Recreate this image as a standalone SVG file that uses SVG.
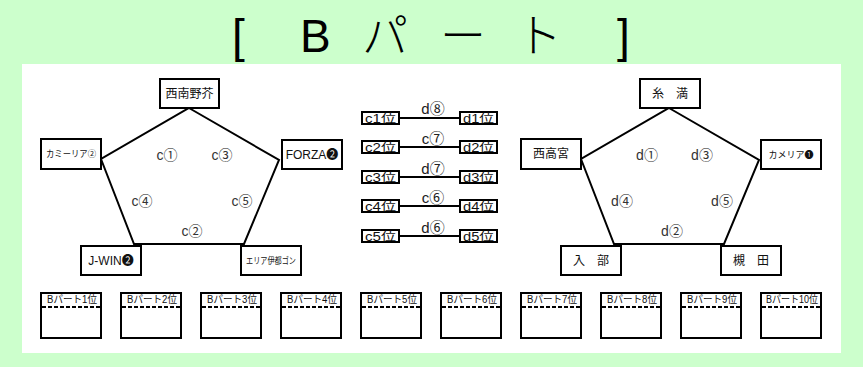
<svg xmlns="http://www.w3.org/2000/svg" width="863" height="367" viewBox="0 0 863 367">
<style>
.box{fill:#fff;stroke:#000;stroke-width:2}
.edge{fill:none;stroke:#000;stroke-width:2}
.t{font-family:"Liberation Sans","Noto Sans CJK JP",sans-serif;fill:#111;text-anchor:middle}
.n12{font-size:12px}
.n9{font-size:9px}
.lab{font-size:14px;fill:#333}
.m{font-size:12px}
.ml{font-size:15px;fill:#222}
.b{font-size:10px}
.dash{stroke:#000;stroke-width:2;stroke-dasharray:4 2}
</style>
<rect x="0" y="0" width="863" height="367" fill="#ccffcc"/>
<rect x="22" y="64" width="819" height="289" fill="#fff"/>
<text y="52" font-family="'Liberation Sans','Noto Sans CJK JP',sans-serif" font-size="46" font-weight="300" fill="#000"><tspan x="232">[</tspan> <tspan x="300">B</tspan><tspan x="362">パ</tspan><tspan x="440">ー</tspan><tspan x="516">ト</tspan> <tspan x="617">]</tspan></text>

<g id="connectors">
<polygon class="edge" points="189,108 279,160 244,244 134,244 101,159"/>
<polygon class="edge" points="669,108 759,160 724,244 614,244 581,159"/>
<line class="edge" x1="399" y1="118" x2="460" y2="118"/>
<line class="edge" x1="399" y1="147" x2="460" y2="147"/>
<line class="edge" x1="399" y1="177" x2="460" y2="177"/>
<line class="edge" x1="399" y1="206" x2="460" y2="206"/>
<line class="edge" x1="399" y1="236" x2="460" y2="236"/>
</g>

<g id="left-labels" class="t lab">
<text x="167" y="160">c①</text>
<text x="222" y="160">c③</text>
<text x="142" y="206">c④</text>
<text x="242" y="206">c⑤</text>
<text x="192" y="236">c②</text>
</g>
<g id="right-labels" class="t lab">
<text x="647" y="160">d①</text>
<text x="702" y="160">d③</text>
<text x="622" y="206">d④</text>
<text x="722" y="206">d⑤</text>
<text x="672" y="236">d②</text>
</g>

<g id="n-seinan"><rect class="box" x="160" y="79" width="59" height="29"/><text class="t n12" x="189.5" y="98">西南野芥</text></g>
<g id="n-kamiria"><rect class="box" x="41" y="139" width="60" height="30"/><text class="t n9" x="71" y="157" textLength="50" lengthAdjust="spacingAndGlyphs">カミーリア②</text></g>
<g id="n-forza"><rect class="box" x="282" y="140" width="60" height="29"/><text class="t n12" x="312" y="159">FORZA❷</text></g>
<g id="n-jwin"><rect class="box" x="81" y="246" width="60" height="29"/><text class="t n12" x="111" y="265">J-WIN❷</text></g>
<g id="n-eria"><rect class="box" x="241" y="246" width="60" height="29"/><text class="t n9" x="271" y="264" textLength="50" lengthAdjust="spacingAndGlyphs">エリア伊都ゴン</text></g>

<g id="n-itoman"><rect class="box" x="640" y="79" width="60" height="29"/><text class="t n12" x="670" y="98">糸　満</text></g>
<g id="n-nishitakamiya"><rect class="box" x="521" y="139" width="60" height="30"/><text class="t n12" x="551" y="158">西高宮</text></g>
<g id="n-kameria"><rect class="box" x="761" y="140" width="60" height="29"/><text class="t n9" x="791" y="158">カメリア❶</text></g>
<g id="n-iribe"><rect class="box" x="561" y="246" width="60" height="29"/><text class="t n12" x="591" y="265">入　部</text></g>
<g id="n-tsukida"><rect class="box" x="721" y="246" width="60" height="29"/><text class="t n12" x="751" y="265">槻　田</text></g>

<g id="n-c1"><rect class="box" x="362" y="112" width="37" height="12"/><text class="t m" x="380.5" y="122.5" textLength="31" lengthAdjust="spacingAndGlyphs">c1位</text></g>
<g id="n-d1"><rect class="box" x="460" y="112" width="37" height="12"/><text class="t m" x="478.5" y="122.5" textLength="31" lengthAdjust="spacingAndGlyphs">d1位</text></g>
<g id="n-c2"><rect class="box" x="362" y="141" width="37" height="12"/><text class="t m" x="380.5" y="151.5" textLength="31" lengthAdjust="spacingAndGlyphs">c2位</text></g>
<g id="n-d2"><rect class="box" x="460" y="141" width="37" height="12"/><text class="t m" x="478.5" y="151.5" textLength="31" lengthAdjust="spacingAndGlyphs">d2位</text></g>
<g id="n-c3"><rect class="box" x="362" y="171" width="37" height="12"/><text class="t m" x="380.5" y="181.5" textLength="31" lengthAdjust="spacingAndGlyphs">c3位</text></g>
<g id="n-d3"><rect class="box" x="460" y="171" width="37" height="12"/><text class="t m" x="478.5" y="181.5" textLength="31" lengthAdjust="spacingAndGlyphs">d3位</text></g>
<g id="n-c4"><rect class="box" x="362" y="200" width="37" height="12"/><text class="t m" x="380.5" y="210.5" textLength="31" lengthAdjust="spacingAndGlyphs">c4位</text></g>
<g id="n-d4"><rect class="box" x="460" y="200" width="37" height="12"/><text class="t m" x="478.5" y="210.5" textLength="31" lengthAdjust="spacingAndGlyphs">d4位</text></g>
<g id="n-c5"><rect class="box" x="362" y="230" width="37" height="12"/><text class="t m" x="380.5" y="240.5" textLength="31" lengthAdjust="spacingAndGlyphs">c5位</text></g>
<g id="n-d5"><rect class="box" x="460" y="230" width="37" height="12"/><text class="t m" x="478.5" y="240.5" textLength="31" lengthAdjust="spacingAndGlyphs">d5位</text></g>

<g id="match-labels" class="t ml">
<text x="433" y="114">d⑧</text>
<text x="433" y="144">c⑦</text>
<text x="433" y="174">d⑦</text>
<text x="433" y="203">c⑥</text>
<text x="433" y="233">d⑥</text>
</g>

<g id="rank1"><rect class="box" x="41" y="293" width="60" height="45"/><line class="dash" x1="42" y1="307" x2="100" y2="307"/><text class="t b" x="72" y="303" textLength="50" lengthAdjust="spacingAndGlyphs">Bパート1位</text></g>
<g id="rank2"><rect class="box" x="121" y="293" width="60" height="45"/><line class="dash" x1="122" y1="307" x2="180" y2="307"/><text class="t b" x="152" y="303" textLength="50" lengthAdjust="spacingAndGlyphs">Bパート2位</text></g>
<g id="rank3"><rect class="box" x="201" y="293" width="60" height="45"/><line class="dash" x1="202" y1="307" x2="260" y2="307"/><text class="t b" x="232" y="303" textLength="50" lengthAdjust="spacingAndGlyphs">Bパート3位</text></g>
<g id="rank4"><rect class="box" x="281" y="293" width="60" height="45"/><line class="dash" x1="282" y1="307" x2="340" y2="307"/><text class="t b" x="312" y="303" textLength="50" lengthAdjust="spacingAndGlyphs">Bパート4位</text></g>
<g id="rank5"><rect class="box" x="361" y="293" width="60" height="45"/><line class="dash" x1="362" y1="307" x2="420" y2="307"/><text class="t b" x="392" y="303" textLength="50" lengthAdjust="spacingAndGlyphs">Bパート5位</text></g>
<g id="rank6"><rect class="box" x="441" y="293" width="60" height="45"/><line class="dash" x1="442" y1="307" x2="500" y2="307"/><text class="t b" x="472" y="303" textLength="50" lengthAdjust="spacingAndGlyphs">Bパート6位</text></g>
<g id="rank7"><rect class="box" x="521" y="293" width="60" height="45"/><line class="dash" x1="522" y1="307" x2="580" y2="307"/><text class="t b" x="552" y="303" textLength="50" lengthAdjust="spacingAndGlyphs">Bパート7位</text></g>
<g id="rank8"><rect class="box" x="601" y="293" width="60" height="45"/><line class="dash" x1="602" y1="307" x2="660" y2="307"/><text class="t b" x="632" y="303" textLength="50" lengthAdjust="spacingAndGlyphs">Bパート8位</text></g>
<g id="rank9"><rect class="box" x="681" y="293" width="60" height="45"/><line class="dash" x1="682" y1="307" x2="740" y2="307"/><text class="t b" x="712" y="303" textLength="50" lengthAdjust="spacingAndGlyphs">Bパート9位</text></g>
<g id="rank10"><rect class="box" x="761" y="293" width="60" height="45"/><line class="dash" x1="762" y1="307" x2="820" y2="307"/><text class="t b" x="792" y="303" textLength="52" lengthAdjust="spacingAndGlyphs">Bパート10位</text></g>
</svg>
